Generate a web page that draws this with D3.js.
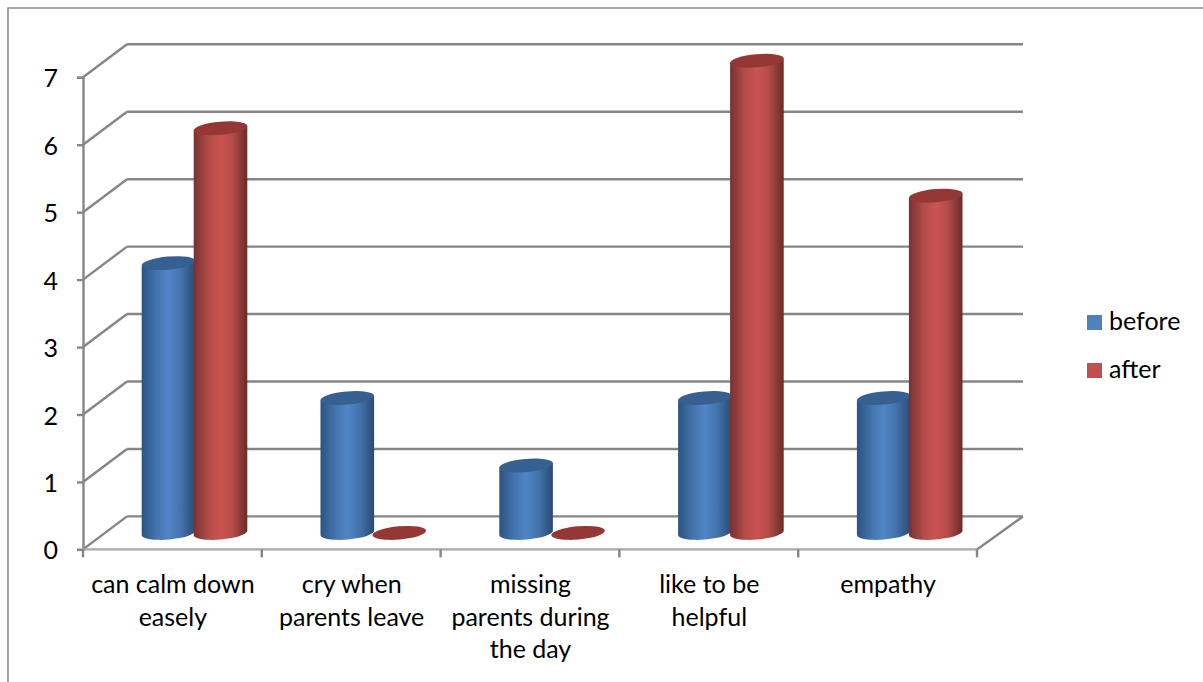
<!DOCTYPE html>
<html>
<head>
<meta charset="utf-8">
<script src="https://cdn.jsdelivr.net/npm/d3@7"></script>
<style>
  html, body { margin: 0; padding: 0; background: #fff; }
  svg { display: block; }
  text { font-family: Lato, "Open Sans", sans-serif; fill: #000; }
</style>
</head>
<body>
<svg id="chart" width="1203" height="682"></svg>
<script>
// Survey answers per behaviour, before and after the programme
const categories = ["can calm down easely", "cry when parents leave", "missing parents during the day", "like to be helpful", "empathy"];
const categoryLines = [
  ["can calm down", "easely"],
  ["cry when", "parents leave"],
  ["missing", "parents during", "the day"],
  ["like to be", "helpful"],
  ["empathy"]
];
const before = [4, 2, 1, 2, 2];
const after = [6, 0, 0, 7, 5];
const seriesNames = ["before", "after"];
const yTicks = [0, 1, 2, 3, 4, 5, 6, 7];

const svg = d3.select("#chart");

// Front plane of the 3D box, and the offset to its back wall
const x = d3.scaleBand().domain(categories).range([83, 977]);
const y = d3.scaleLinear().domain([0, 7]).range([549.4, 77.3]);
const depth = { dx: 44, dy: -33 };
const gridColor = "#868686";
const gridWidth = 2.4;
const tilt = -5, tiltRad = tilt * Math.PI / 180;
const fontSize = 25;

// Chart frame, cut off by the page on the right and at the bottom
svg.append("path")
  .attr("d", "M8,682V8H1203")
  .attr("fill", "none").attr("stroke", "#8c8c8c").attr("stroke-width", 1.6);

// Back wall and side wall gridlines
const grid = svg.append("g").attr("fill", "none").attr("stroke", gridColor).attr("stroke-width", gridWidth);
grid.selectAll("line.back").data(yTicks).join("line").attr("class", "back")
  .attr("x1", x.range()[0] + depth.dx).attr("x2", x.range()[1] + depth.dx + 2)
  .attr("y1", d => y(d) + depth.dy).attr("y2", d => y(d) + depth.dy);
grid.selectAll("line.side").data(yTicks).join("line").attr("class", "side")
  .attr("x1", x.range()[0]).attr("x2", x.range()[0] + depth.dx)
  .attr("y1", d => y(d)).attr("y2", d => y(d) + depth.dy);
// Right edge of the floor
grid.append("line")
  .attr("x1", x.range()[1]).attr("y1", y(0))
  .attr("x2", x.range()[1] + depth.dx + 2).attr("y2", y(0) + depth.dy);

// Value axis
const yAxis = svg.append("g").attr("transform", `translate(${x.range()[0]},0)`)
  .call(d3.axisLeft(y).tickValues(yTicks).tickFormat(d3.format("d")).tickSize(6).tickPadding(19));
yAxis.selectAll("path").attr("stroke", gridColor).attr("stroke-width", gridWidth);
yAxis.selectAll("line").attr("stroke", gridColor).attr("stroke-width", gridWidth);
yAxis.selectAll("text").attr("font-size", fontSize).style("font-family", "Lato, sans-serif").attr("dy", "0.38em");

// Category axis along the front of the floor
const xEdges = categories.map(c => x(c)).concat(x.range()[1]);
const xAxis = svg.append("g").attr("transform", `translate(0,${y(0)})`);
xAxis.append("line").attr("x1", x.range()[0]).attr("x2", x.range()[1])
  .attr("stroke", "#a8a8a8").attr("stroke-width", gridWidth);
xAxis.selectAll("line.tick").data(xEdges).join("line").attr("class", "tick")
  .attr("x1", d => d).attr("x2", d => d).attr("y1", 0).attr("y2", 8)
  .attr("stroke", gridColor).attr("stroke-width", gridWidth);

svg.append("g").selectAll("text").data(categories).join("text")
  .attr("text-anchor", "middle").attr("font-size", fontSize)
  .each(function (c, i) {
    d3.select(this).selectAll("tspan").data(categoryLines[i]).join("tspan")
      .attr("x", x(c) + x.bandwidth() / 2 + 0.5)
      .attr("y", (d, j) => 593 + j * 32.5)
      .text(d => d);
  });

// Side shading of the cylinders
const defs = svg.append("defs");
const shades = {
  before: { top: "#376092", stops: ["#2c5382", "#4474ad", "#5085c7", "#4474ad", "#2c4a73"] },
  after: { top: "#953735", stops: ["#773230", "#b44c49", "#cb5452", "#b44c49", "#6a2b2a"] }
};
seriesNames.forEach(name => {
  const g = defs.append("linearGradient").attr("id", "shade-" + name);
  [0, 0.28, 0.5, 0.72, 1].forEach((o, i) => {
    g.append("stop").attr("offset", o).attr("stop-color", shades[name].stops[i]);
  });
});

// Two cylinders per category, standing half way into the floor depth
const series = d3.scaleBand().domain(seriesNames)
  .range([59.5 - depth.dx / 2, 163.5 - depth.dx / 2]);
const rx = 26.9, ry = 6.6;
const tipX = rx * Math.cos(tiltRad), tipY = rx * Math.sin(tiltRad);

const rows = categories.flatMap((c, i) => [
  { c, name: "before", value: before[i] },
  { c, name: "after", value: after[i] }
]);

const bars = svg.append("g").selectAll("g").data(rows).join("g")
  .attr("transform", d => {
    const cx = x(d.c) + series(d.name) + series.bandwidth() / 2 + depth.dx / 2;
    return `translate(${cx},${depth.dy / 2})`;
  });

bars.filter(d => d.value > 0).append("path")
  .attr("fill", d => `url(#shade-${d.name})`)
  .attr("d", d => {
    const t = y(d.value), b = y(0);
    return `M${-tipX},${t - tipY}L${-tipX},${b - tipY}` +
      `A${rx},${ry} ${tilt} 0 0 ${tipX},${b + tipY}L${tipX},${t + tipY}Z`;
  });

bars.append("ellipse")
  .attr("rx", rx).attr("ry", ry)
  .attr("fill", d => shades[d.name].top)
  .attr("transform", d => `translate(0,${y(d.value)}) rotate(${tilt})`);

// Legend
const legendY = d3.scalePoint().domain(seriesNames).range([322.5, 370.5]);
const legend = svg.append("g").selectAll("g").data(seriesNames).join("g")
  .attr("transform", d => `translate(1087,${legendY(d)})`);
legend.append("rect").attr("y", -7.5).attr("width", 15).attr("height", 15)
  .attr("fill", d => d === "before" ? "#4f81bd" : "#c0504d");
legend.append("text").attr("x", 22).attr("y", 7.5).attr("font-size", fontSize).text(d => d);
</script>
</body>
</html>
